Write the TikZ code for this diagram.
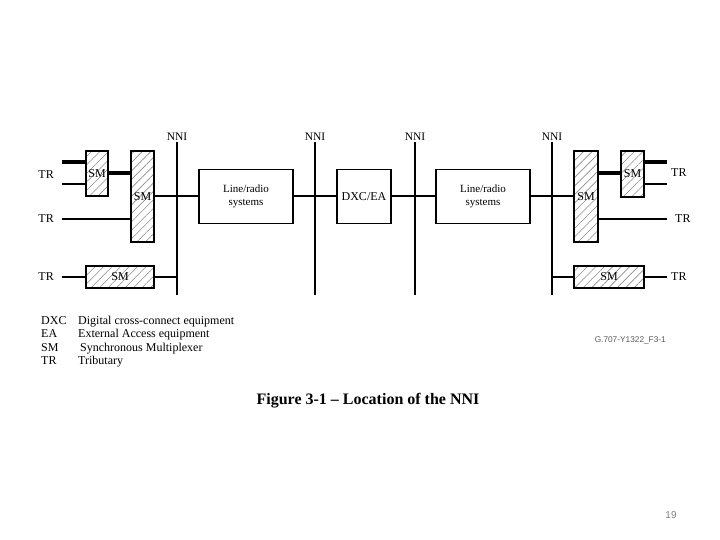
\documentclass[tikz,border=0pt]{standalone}
\usepackage{fontspec}
\setmainfont{Liberation Serif}
\newfontfamily\labelsans{Liberation Sans}
\usetikzlibrary{patterns.meta}

\begin{document}
\begin{tikzpicture}[
  x=1pt, y=-1pt,
  font=\fontsize{11}{13}\selectfont,
  box/.style={draw, line width=1.3pt, inner sep=0pt, align=center},
  sm/.style={box, font=\fontsize{12}{14}\selectfont, pattern={Lines[angle=45, distance=6pt, line width=0.6pt]}, pattern color=gray!90},
  sys/.style={box, fill=white},
  tr/.style={anchor=east, inner xsep=8pt, font=\fontsize{12}{14}\selectfont},
  nnilab/.style={font=\fontsize{11.5}{13}\selectfont, inner sep=1pt},
  link/.style={line width=2pt},
  thin/.style={line width=1.4pt},
  thick/.style={line width=3.5pt},
  leg/.style={anchor=base west, inner sep=0pt, font=\fontsize{12}{14}\selectfont}
]
\useasboundingbox (0,0) rectangle (720,540);
\def\yTop{142}
\def\yBot{295}
\def\yMain{196.5}

% NNI reference lines
\foreach \n/\x in {1/177, 2/315, 3/415, 4/552} {
  \node[nnilab, anchor=south] (N\n) at (\x,\yTop) {NNI};
  \coordinate (B\n) at (\x,\yBot);
  \draw[link] (N\n.south) -- (B\n);
}

% left side
\node[sm, minimum width=22pt, minimum height=45pt] (smA) at (97,173.5) {SM};
\node[sm, minimum width=23pt, minimum height=91pt] (smB) at (142.5,\yMain) {SM};
\node[sm, minimum width=68pt, minimum height=22pt] (smC) at (120,277) {SM};
\node[tr] (trA) at (62,175) {TR};
\node[tr] (trB) at (62,219) {TR};
\node[tr] (trC) at (62,277) {TR};

% systems
\node[sys, minimum width=94pt, minimum height=54pt] (lr1) at (246,\yMain) {Line/radio\\systems};
\node[sys, minimum width=54pt, minimum height=54pt, font=\fontsize{12}{14}\selectfont] (dxc) at (364,\yMain) {DXC/EA};
\node[sys, minimum width=94pt, minimum height=54pt] (lr2) at (483,\yMain) {Line/radio\\systems};

% right side
\node[sm, minimum width=24pt, minimum height=91pt] (smD) at (586,\yMain) {SM};
\node[sm, minimum width=23pt, minimum height=46pt] (smE) at (632.5,174) {SM};
\node[sm, minimum width=70pt, minimum height=22pt] (smF) at (609,277) {SM};
\node[tr, anchor=west, inner xsep=0pt] (trD) at (671,173) {TR};
\node[tr, anchor=west, inner xsep=0pt] (trE) at (675,219) {TR};
\node[tr, anchor=west, inner xsep=0pt] (trF) at (671,277) {TR};

% tributary ends
\coordinate (a1) at (62,162);
\coordinate (a2) at (62,184);
\coordinate (d1) at (667,162);
\coordinate (d2) at (667,184);

% connections
\draw[thick] (a1) -- (a1 -| smA.west);
\draw[thin] (a2) -- (a2 -| smA.west);
\draw[thick] (smA.east |- 0,173) -- (smB.west |- 0,173);
\draw[link] (trB.east) -- (trB.east -| smB.west);
\draw[thin] (trC.east) -- (smC.west);
\draw[link] (smC.east) -- (smC.east -| B1);
\draw[link] (smB.east) -- (lr1.west);
\draw[link] (lr1.east) -- (dxc.west);
\draw[link] (dxc.east) -- (lr2.west);
\draw[link] (lr2.east) -- (smD.west);
\draw[thick] (smD.east |- 0,173) -- (smE.west |- 0,173);
\draw[thick] (d1 -| smE.east) -- (d1);
\draw[thin] (d2 -| smE.east) -- (d2);
\draw[link] (smD.east |- trE) -- ([xshift=-8pt]trE.west);
\draw[thin] (smF.west -| B4) -- (smF.west);
\draw[thin] (smF.east) -- ([xshift=-4pt]trF.west);

% legend
\node[leg] (kDXC) at (41,324) {DXC};
\node[leg] (kEA) at (41,337) {EA};
\node[leg] (kSM) at (41,351) {SM};
\node[leg] (kTR) at (41,364) {TR};
\node[leg] (tDXC) at (78,324) {Digital cross-connect equipment};
\node[leg] (tEA) at (78,337) {External Access equipment};
\node[leg] (tSM) at (80,351) {Synchronous Multiplexer};
\node[leg] (tTR) at (78,364) {Tributary};

\node[anchor=east, inner sep=0pt, font=\labelsans\fontsize{8.3}{9}\selectfont, text=gray!70!black] (ref) at (666,340) {G.707-Y1322\_F3-1};

% caption
\node[font=\bfseries\fontsize{16}{18}\selectfont] (cap) at (368,401) {Figure 3-1 -- Location of the NNI};
\node[font=\labelsans\fontsize{10}{11}\selectfont, text=gray] (page) at (671,515) {19};
\end{tikzpicture}
\end{document}
